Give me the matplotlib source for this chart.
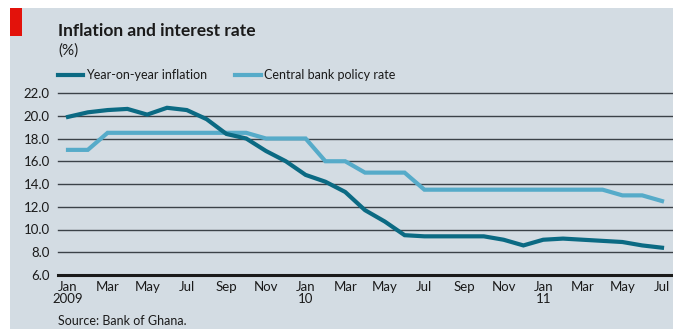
import numpy as np
import matplotlib
matplotlib.use("Agg")
import matplotlib.pyplot as plt
from matplotlib.patches import Rectangle

# monthly, Jan 2009 - Jul 2011
months = ["Jan", "Feb", "Mar", "Apr", "May", "Jun", "Jul", "Aug", "Sep", "Oct", "Nov", "Dec"] * 2 + \
         ["Jan", "Feb", "Mar", "Apr", "May", "Jun", "Jul"]
years = {0: "2009", 12: "10", 24: "11"}
inflation = [19.9, 20.3, 20.5, 20.6, 20.1, 20.7, 20.5, 19.7, 18.4, 18.0, 16.9, 16.0,
             14.8, 14.2, 13.3, 11.7, 10.7, 9.5, 9.4, 9.4, 9.4, 9.4, 9.1, 8.6,
             9.1, 9.2, 9.1, 9.0, 8.9, 8.6, 8.4]
policy = [17.0, 17.0, 18.5, 18.5, 18.5, 18.5, 18.5, 18.5, 18.5, 18.5, 18.0, 18.0,
          18.0, 16.0, 16.0, 15.0, 15.0, 15.0, 13.5, 13.5, 13.5, 13.5, 13.5, 13.5,
          13.5, 13.5, 13.5, 13.5, 13.0, 13.0, 12.5]
yticks = np.arange(6, 23, 2)

plt.rcParams['font.family'] = ['Lato', 'DejaVu Sans']
W, H = 673, 329
fig = plt.figure(figsize=(W / 100, H / 100), dpi=100)
fig.patch.set_facecolor("white")

bg = "#d3dce3"
dark = "#0b6a83"
light = "#56abc9"

fig.patches.append(Rectangle((10 / W, 0), 1 - 10 / W, 1 - 8 / H, transform=fig.transFigure,
                             facecolor=bg, edgecolor="none", zorder=-2))
fig.patches.append(Rectangle((10 / W, 1 - 36 / H), 12 / W, 28 / H, transform=fig.transFigure,
                             facecolor="#e3120b", edgecolor="none", zorder=-1))

ax = fig.add_axes([58 / W, 54 / H, 1 - 58 / W, (275 - 93) / H])
ax.set_zorder(2)
ax.set_facecolor("none")
x = np.arange(len(inflation))
ax.plot(x, policy, color=light, lw=3.0, solid_joinstyle="miter", zorder=3)
ax.plot(x, inflation, color=dark, lw=3.0, solid_joinstyle="miter", zorder=4)

ax.set_ylim(6, 22)
ax.set_xlim(-10 / 19.8, (673 - 68) / 19.8)
ax.set_yticks(yticks)
ax.set_yticklabels([f"{v:.1f}" for v in yticks])
for v in yticks:
    if v == 6:
        ax.axhline(v, color="#1a1a1a", lw=2.2, zorder=2, clip_on=False)
    else:
        ax.axhline(v, color="#3b4248", lw=1.0, zorder=1, clip_on=False)

ticks = list(range(0, len(months), 2))
labels = [months[i] + ("\n" + years[i] if i in years else "") for i in ticks]
ax.set_xticks(ticks)
ax.set_xticklabels(labels, linespacing=1.0)
ax.tick_params(axis="both", length=0, labelsize=9.5, colors="#1a1a1a")
ax.tick_params(axis="x", pad=4)
ax.tick_params(axis="y", pad=6)
for s in ax.spines.values():
    s.set_visible(False)

fig.text(58 / W, 1 - 36.5 / H, "Inflation and interest rate", fontsize=12.5, fontweight="bold",
         color="#1a1a1a", va="baseline")
fig.text(58 / W, 1 - 55 / H, "(%)", fontsize=11, color="#1a1a1a", va="baseline")

# legend
fig.add_artist(plt.Line2D([58 / W, 83 / W], [1 - 75 / H] * 2, color=dark, lw=3.0))
fig.text(86 / W, 1 - 75 / H, "Year-on-year inflation", fontsize=9, color="#1a1a1a", va="center")
fig.add_artist(plt.Line2D([235 / W, 261 / W], [1 - 75 / H] * 2, color=light, lw=3.0))
fig.text(264 / W, 1 - 75 / H, "Central bank policy rate", fontsize=9, color="#1a1a1a", va="center")

fig.text(58 / W, 1 - 325 / H, "Source: Bank of Ghana.", fontsize=9, color="#1a1a1a", va="baseline")

fig.savefig("out.png", dpi=100, facecolor=fig.get_facecolor())
